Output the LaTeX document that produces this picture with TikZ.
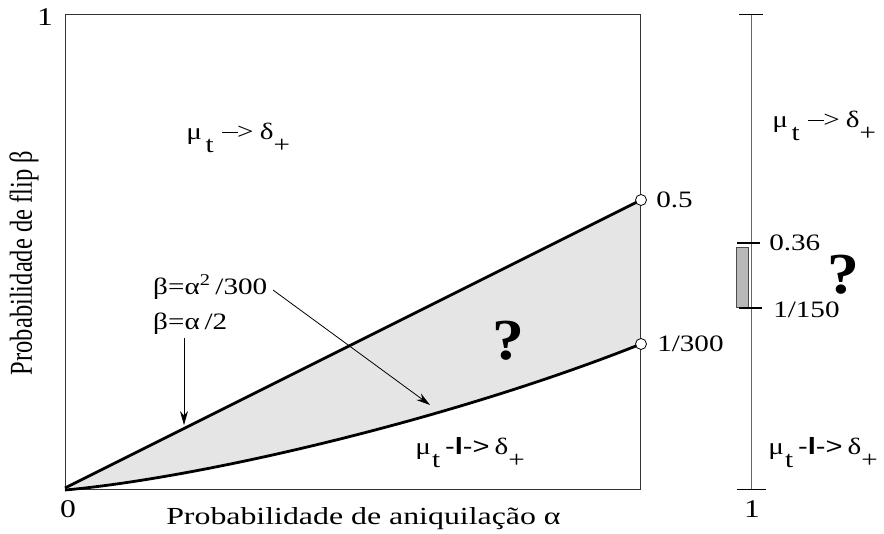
\documentclass[tikz,border=0pt]{standalone}
\usepackage{fontspec}
\setmainfont{Liberation Serif}
\newfontfamily\sansfont{Liberation Sans}
\usetikzlibrary{arrows.meta, positioning}

\newcommand{\lowsub}[1]{\raisebox{-13pt}{#1}}
\newcommand{\goes}{μ\hspace{3pt}\lowsub{t}\hspace{7pt}\rule[6.5pt]{13pt}{1.3pt}\hspace{-1pt}>\hspace{5pt}δ\lowsub{+}}
\newcommand{\notgoes}{μ\hspace{1pt}\lowsub{t}\hspace{4pt}{\sansfont -\textbf{l}->}\hspace{4pt}δ\lowsub{+}}

\begin{document}
\begin{tikzpicture}[x=1pt, y=-1pt,
    lbl/.style={font=\fontsize{23.5}{28}\selectfont, inner sep=0pt, xscale=1.24},
    axislbl/.style={font=\fontsize{24.5}{28}\selectfont, inner sep=0pt, xscale=1.3},
    curve/.style={line width=2.8pt, line join=round},
    endpt/.style={circle, draw, fill=white, line width=0.8pt, inner sep=0pt, minimum size=11pt},
    pointer/.style={-{Stealth[length=14pt, width=8pt]}, line width=0.8pt},
    tickmark/.style={line width=2.4pt},
    qmark/.style={font=\fontsize{58}{60}\selectfont\bfseries, inner sep=0pt, xscale=1.1}]
  \useasboundingbox (0,0) rectangle (884,534);

  \coordinate (origin) at (65,488);
  \coordinate (upper) at (641,200);
  \coordinate (lower) at (641,344);

  % region between the two boundaries
  \fill[black!10] (origin) -- (upper) -- (lower)
    .. controls (450,420) and (200,478) .. (origin) -- cycle;
  \draw[line width=1pt, black!80] (65,15) rectangle (640,490);
  \draw[curve] (origin) -- (upper);
  \draw[curve] (65,490) .. controls (200,478) and (450,420) .. (lower);
  \node[endpt] (half) at (upper) {};
  \node[endpt] (third) at (lower) {};
  \node[lbl, anchor=west] (halflbl) at (656,200) {0.5};
  \node[lbl, anchor=west] (thirdlbl) at (657,344) {1/300};

  % axes labels
  \node[lbl, font=\fontsize{25.5}{28}\selectfont] (one) at (45,17) {1};
  \node[lbl, font=\fontsize{25.5}{28}\selectfont] (zero) at (68,509) {0};
  \node[axislbl, anchor=base west] (xlbl) at (166,524) {Probabilidade de aniquilação α};
  \node[axislbl, rotate=90] (ylbl) at (24,263) {Probabilidade de flip β};

  % regions
  \node[lbl, anchor=base west] (goesA) at (186,140) {\goes};
  \node[lbl, anchor=base west] (notA) at (415,455) {\notgoes};
  \node[qmark] (qA) at (508,341) {?};

  % curve labels
  \node[lbl, anchor=base west] (quad) at (153,295) {β=α\textsuperscript{2}\,/300};
  \node[lbl, anchor=base west] (lin) at (153,330) {β=α\,/2};
  \coordinate (linpt) at (184,425);
  \coordinate (quadpt) at (430,405);
  \draw[pointer] (184,338) -- (linpt);
  \draw[pointer] (273,290) -- (quadpt);

  % scale on the right
  \draw[line width=1pt, black!60] (751,15) -- (751,490);
  \draw[line width=1pt] (739,15) -- (763,15);
  \draw[line width=1pt] (737,490) -- (766,490);
  \node[lbl, font=\fontsize{25.5}{28}\selectfont] (oneR) at (752,509) {1};
  \draw[fill=black!28, draw=black!70, line width=0.8pt] (736,247) rectangle (748,307);
  \draw[tickmark] (737,243) -- (760,243);
  \draw[tickmark] (739,308) -- (762,308);
  \node[lbl, anchor=west] (topR) at (769,243) {0.36};
  \node[lbl, anchor=west] (botR) at (773,310) {1/150};
  \node[qmark] (qB) at (843,275) {?};
  \node[lbl, anchor=base west] (goesB) at (772,128) {\goes};
  \node[lbl, anchor=base west] (notB) at (768,455) {\notgoes};
\end{tikzpicture}
\end{document}
